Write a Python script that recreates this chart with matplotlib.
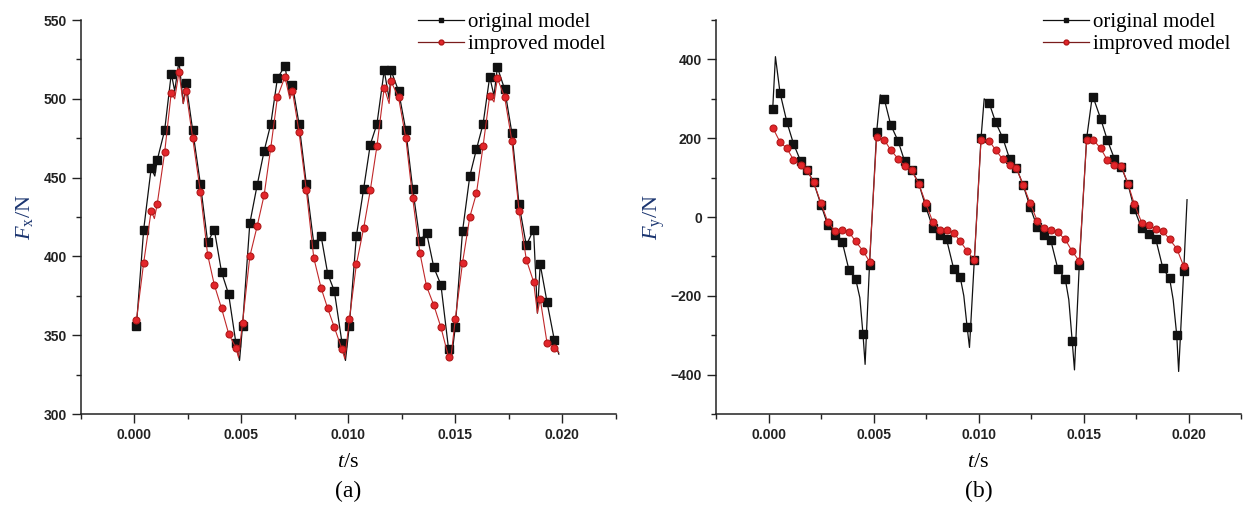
import numpy as np
import matplotlib.pyplot as plt
from matplotlib.lines import Line2D

plt.rcParams['font.family'] = ['Liberation Serif', 'DejaVu Serif']
plt.rcParams['mathtext.fontset'] = 'custom'
plt.rcParams['mathtext.rm'] = 'Liberation Serif'
plt.rcParams['mathtext.it'] = 'Liberation Serif:italic'

# ---- panel (a): Fx, marker positions ----
t_a = [0.00011, 0.00045, 0.00080, 0.00108, 0.00143, 0.00174, 0.00210, 0.00243, 0.00274, 0.00310,
       0.00344, 0.00375, 0.00409, 0.00442, 0.00476, 0.00507, 0.00541, 0.00575, 0.00608, 0.00639,
       0.00670, 0.00705, 0.00740, 0.00771, 0.00805, 0.00840, 0.00874, 0.00905, 0.00936, 0.00972,
       0.01006, 0.01039, 0.01073, 0.01104, 0.01135, 0.01169, 0.01201, 0.01236, 0.01270, 0.01302,
       0.01336, 0.01367, 0.01401, 0.01434, 0.01470, 0.01501, 0.01535, 0.01569, 0.01600, 0.01631,
       0.01662, 0.01698, 0.01732, 0.01766, 0.01799, 0.01833, 0.01867, 0.01898, 0.01930, 0.01964]
fx_orig = [356, 417, 456, 461, 480, 516, 524, 510, 480, 446,
           409, 417, 390, 376, 345, 356, 421, 445, 467, 484,
           513, 521, 509, 484, 446, 408, 413, 389, 378, 345,
           356, 413, 443, 471, 484, 518, 518, 505, 480, 443,
           410, 415, 393, 382, 341, 355, 416, 451, 468, 484,
           514, 520, 506, 478, 433, 407, 417, 395, 371, 347]
fx_impr = [359.5, 396, 429, 433, 466, 504, 517, 505, 475, 441,
           401, 382, 367, 351, 342, 358, 400, 419, 439, 469,
           501, 514, 505, 479, 442, 399, 380, 367, 355, 341,
           360, 395, 418, 442, 470, 507, 511, 501, 475, 437,
           402, 381, 369, 355, 336, 360, 396, 425, 440, 470,
           502, 513, 501, 473, 429, 398, 384, 373, 345, 342]
# extra curve vertices between markers (dips, minima)
t_a_orig_x = [0.00097, 0.00190, 0.00230, 0.00493, 0.00728, 0.00988, 0.01192, 0.01484, 0.01682, 0.01885, 0.01985]
fx_orig_x = [451, 505, 497, 334, 502, 334, 500, 336, 502, 364, 338]
t_a_impr_x = [0.00095, 0.00190, 0.00230, 0.00488, 0.00728, 0.00985, 0.01192, 0.01480, 0.01682, 0.01885, 0.01985]
fx_impr_x = [424, 500, 497, 336, 500, 335, 497, 335, 498, 364, 339]

# ---- panel (b): Fy ----
t_b = [0.00020, 0.00055, 0.00088, 0.00119, 0.00153, 0.00184, 0.00215, 0.00250, 0.00282, 0.00317,
       0.00351, 0.00383, 0.00415, 0.00450, 0.00481, 0.00515, 0.00551, 0.00582, 0.00617, 0.00648,
       0.00681, 0.00715, 0.00749, 0.00782, 0.00816, 0.00848, 0.00882, 0.00913, 0.00946, 0.00980,
       0.01012, 0.01051, 0.01082, 0.01116, 0.01149, 0.01180, 0.01212, 0.01246, 0.01280, 0.01313,
       0.01344, 0.01378, 0.01413, 0.01446, 0.01480, 0.01515, 0.01546, 0.01582, 0.01613, 0.01647,
       0.01680, 0.01711, 0.01742, 0.01777, 0.01811, 0.01844, 0.01878, 0.01910, 0.01944, 0.01977]
fy_orig = [274, 315, 240, 186, 142, 120, 88, 31, -20, -46,
           -63, -134, -157, -298, -121, 216, 300, 234, 193, 142,
           120, 86, 26, -27, -46, -57, -132, -153, -280, -110,
           200, 289, 240, 200, 146, 125, 82, 25, -26, -46,
           -59, -132, -157, -314, -121, 200, 304, 249, 196, 148,
           127, 85, 20, -29, -44, -56, -130, -156, -300, -138]
fy_impr = [227, 190, 174, 145, 131, 119, 88, 35, -12, -35,
           -32, -38, -62, -86, -113, 202, 196, 170, 148, 129,
           119, 85, 35, -12, -33, -32, -40, -62, -86, -110,
           196, 193, 170, 146, 133, 125, 82, 35, -10, -29,
           -33, -39, -57, -87, -112, 196, 196, 174, 145, 133,
           129, 85, 33, -14, -21, -31, -36, -57, -80, -125]
t_b_orig_x = [0.00033, 0.00435, 0.00460, 0.00532, 0.00930, 0.00957, 0.01027,
              0.01430, 0.01457, 0.01542, 0.01927, 0.01953, 0.01993]
fy_orig_x = [407, -205, -374, 310, -200, -331, 300, -210, -388, 307, -210, -392, 44]


def curve(t_m, y_m, t_x, y_x):
    t = np.concatenate([t_m, t_x])
    y = np.concatenate([y_m, y_x])
    order = np.argsort(t)
    return t[order], y[order]


black = '#111111'
red_line = '#c0282a'
red_face = '#e3262b'
red_edge = '#b01818'
navy = '#1b3570'

fig = plt.figure(figsize=(12.45, 5.08), dpi=100)
ax1 = fig.add_axes([0.0647, 0.185, 0.4297, 0.7756])
ax2 = fig.add_axes([0.5751, 0.185, 0.4217, 0.7756])

# panel (a)
tl, yl = curve(t_a, fx_orig, t_a_orig_x, fx_orig_x)
ax1.plot(tl, yl, color=black, lw=0.9)
ax1.plot(t_a, fx_orig, ls='none', marker='s', ms=5.3, color=black)
tl, yl = curve(t_a, fx_impr, t_a_impr_x, fx_impr_x)
ax1.plot(tl, yl, color=red_line, lw=0.8)
ax1.plot(t_a, fx_impr, ls='none', marker='o', ms=5, mfc=red_face, mec=red_edge, mew=0.8)

# panel (b)
tl, yl = curve(t_b, fy_orig, t_b_orig_x, fy_orig_x)
ax2.plot(tl, yl, color=black, lw=0.9)
ax2.plot(t_b, fy_orig, ls='none', marker='s', ms=5.3, color=black)
ax2.plot(t_b, fy_impr, color=red_line, lw=0.8)
ax2.plot(t_b, fy_impr, ls='none', marker='o', ms=5, mfc=red_face, mec=red_edge, mew=0.8)

ax1.set_ylim(300, 550)
ax1.set_yticks([300, 350, 400, 450, 500, 550])
ax1.set_yticks(np.arange(325, 550, 50), minor=True)
ax2.set_ylim(-500, 500)
ax2.set_yticks([-400, -200, 0, 200, 400])
ax2.set_yticks([-500, -300, -100, 100, 300, 500], minor=True)

for ax in (ax1, ax2):
    ax.set_xlim(-0.0025, 0.0224)
    ax.set_xticks([0.000, 0.005, 0.010, 0.015, 0.020])
    ax.set_xticks([-0.0025, 0.0025, 0.0075, 0.0125, 0.0175, 0.0225], minor=True)
    ax.xaxis.set_major_formatter(plt.FuncFormatter(lambda v, p: f'{v:.3f}'))
    ax.spines['top'].set_visible(False)
    ax.spines['right'].set_visible(False)
    for s in ('left', 'bottom'):
        ax.spines[s].set_linewidth(1.1)
        ax.spines[s].set_color('#222222')
    ax.tick_params(which='major', direction='out', length=6.5, width=1.0, pad=3.5, color='#222222')
    ax.tick_params(which='minor', direction='out', length=3.5, width=1.0, color='#222222')
    for lab in ax.get_xticklabels() + ax.get_yticklabels():
        lab.set_family(['Liberation Sans', 'DejaVu Sans'])
        lab.set_fontsize(10)
        lab.set_fontweight('bold')
        lab.set_color('#222222')
    ax.set_xlabel('$t$/s', fontsize=16)
    handles = [Line2D([], [], color=black, lw=0.9, marker='s', ms=3.5),
               Line2D([], [], color='#7a1c1c', lw=0.9, marker='o', ms=3.5, mfc=red_face, mec=red_edge)]
    ax.legend(handles, ['original model', 'improved model'], loc='upper right',
              bbox_to_anchor=(1.0, 1.045), frameon=False, fontsize=15,
              handlelength=2.2, handletextpad=0.2, labelspacing=0.1, borderaxespad=0.1)

ax1.set_ylabel(r'$F_{\mathrm{x}}$/N', fontsize=16, color=navy)
ax2.set_ylabel(r'$F_{\mathrm{y}}$/N', fontsize=16, color=navy)
ax1.yaxis.set_label_coords(-0.085, 0.5)
ax2.yaxis.set_label_coords(-0.094, 0.5)
ax1.xaxis.set_label_coords(0.5, -0.1)
ax2.xaxis.set_label_coords(0.5, -0.1)

fig.text(0.2795, 0.032, '(a)', fontsize=17, ha='center', va='center')
fig.text(0.786, 0.032, '(b)', fontsize=17, ha='center', va='center')

fig.savefig('out.png', dpi=100)
